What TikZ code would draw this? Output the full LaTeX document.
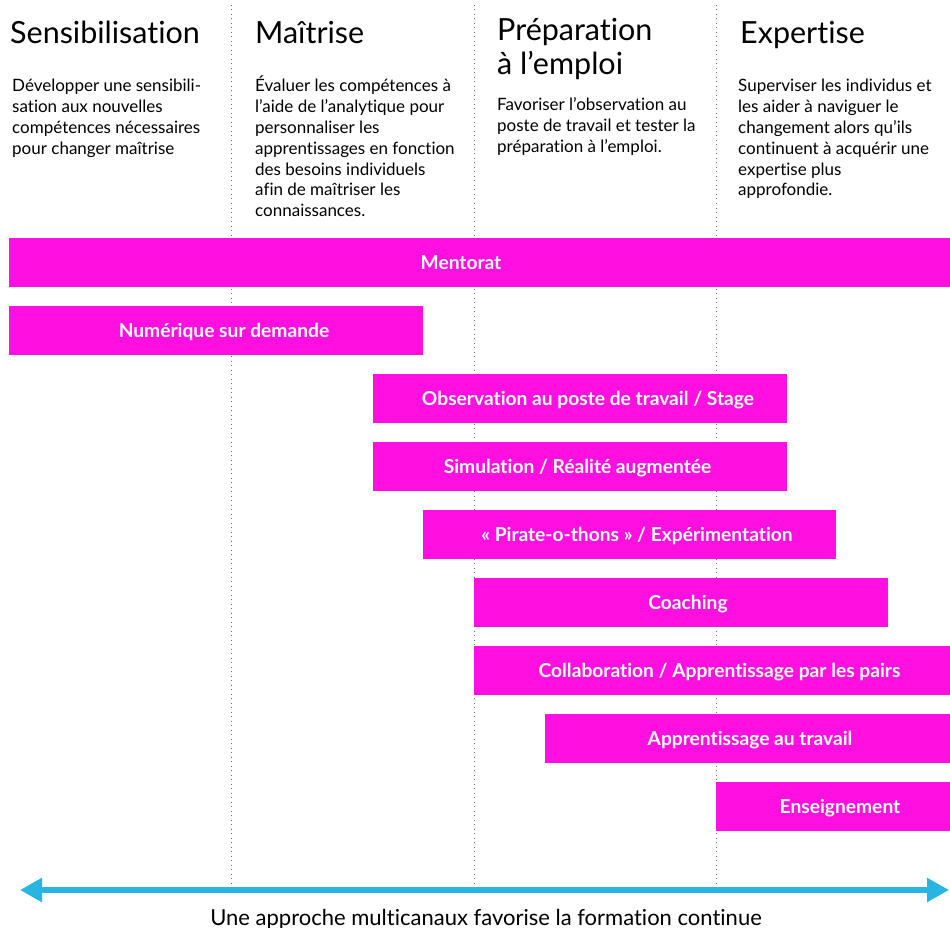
\documentclass[tikz,border=0pt]{standalone}
\usepackage{fontspec}
\setmainfont{Lato}[Ligatures={NoCommon}]
\usetikzlibrary{arrows.meta}
\definecolor{mag}{RGB}{255,16,224}
\definecolor{cyanline}{RGB}{41,181,226}
\definecolor{dotgray}{RGB}{110,110,110}
\newcommand{\coltext}[1]{\begin{tabular}[t]{@{}l@{}}#1\end{tabular}}
\begin{document}
\begin{tikzpicture}[x=1pt,y=-1pt,
  bar/.style={fill=mag, draw=none, inner sep=0pt, minimum height=49pt, anchor=north west},
  bartext/.style={text=white, font=\fontsize{19.2}{22}\selectfont\bfseries, inner sep=0pt, anchor=base},
  head/.style={anchor=base west, inner sep=0pt, font=\fontsize{30.5}{34}\selectfont},
  body/.style={anchor=base west, inner sep=0pt, font=\fontsize{17}{20.8}\selectfont},
  divider/.style={dotgray, line width=1pt, dash pattern=on 1pt off 3.5pt},
  timeline/.style={cyanline, line width=6pt, {Triangle[length=22pt,width=23pt]}-{Triangle[length=22pt,width=23pt]}},
  caption/.style={anchor=base, inner sep=0pt, font=\fontsize{22}{24}\selectfont}
]
\useasboundingbox (0,0) rectangle (950,928);

% dividers
\coordinate (d1t) at (231,5);  \coordinate (d1b) at (231,887);
\coordinate (d2t) at (474,5);  \coordinate (d2b) at (474,887);
\coordinate (d3t) at (716,5);  \coordinate (d3b) at (716,887);
\draw[divider] (d1t) -- (d1b);
\draw[divider] (d2t) -- (d2b);
\draw[divider] (d3t) -- (d3b);

% headers
\node[head] (h1) at (10,44) {Sensibilisation};
\node[head] (h2) at (255,44) {Maîtrise};
\node[head] (h3a) at (497,41) {Préparation};
\node[head] (h3b) at (497,75) {à l’emploi};
\node[head] (h4) at (740,44) {Expertise};

% descriptions
\node[body] (p1) at (12,92) {\coltext{Développer une sensibili-\\sation aux nouvelles\\compétences nécessaires\\pour changer maîtrise}};
\node[body] (p2) at (255,92) {\coltext{Évaluer les compétences à\\l’aide de l’analytique pour\\personnaliser les\\apprentissages en fonction\\des besoins individuels\\afin de maîtriser les\\connaissances.}};
\node[body] (p3) at (497,111) {\coltext{Favoriser l’observation au\\poste de travail et tester la\\préparation à l’emploi.}};
\node[body] (p4) at (738,92) {\coltext{Superviser les individus et\\les aider à naviguer le\\changement alors qu’ils\\continuent à acquérir une\\expertise plus\\approfondie.}};

% bars
\node[bar, minimum width=941pt] (b1) at (9,238) {};
\node[bar, minimum width=414pt] (b2) at (9,306) {};
\node[bar, minimum width=414pt] (b3) at (373,374) {};
\node[bar, minimum width=414pt] (b4) at (373,442) {};
\node[bar, minimum width=413pt] (b5) at (423,510) {};
\node[bar, minimum width=414pt] (b6) at (474,578) {};
\node[bar, minimum width=476pt] (b7) at (474,646) {};
\node[bar, minimum width=405pt] (b8) at (545,714) {};
\node[bar, minimum width=234pt] (b9) at (716,782) {};

\node[bartext] (t1) at (461,269) {Mentorat};
\node[bartext] (t2) at (224,337) {Numérique sur demande};
\node[bartext] (t3) at (588,405) {Observation au poste de travail / Stage};
\node[bartext] (t4) at (577.5,473) {Simulation / Réalité augmentée};
\node[bartext] (t5) at (637,541) {«~Pirate-o-thons~» / Expérimentation};
\node[bartext] (t6) at (688,609) {Coaching};
\node[bartext] (t7) at (719.5,677) {Collaboration / Apprentissage par les pairs};
\node[bartext] (t8) at (750,745) {Apprentissage au travail};
\node[bartext] (t9) at (840,813) {Enseignement};

% timeline
\coordinate (al) at (20,890);
\coordinate (ar) at (949,890);
\draw[timeline] (al) -- (ar);
\node[caption] (cap) at (486,925) {Une approche multicanaux favorise la formation continue};
\end{tikzpicture}
\end{document}
